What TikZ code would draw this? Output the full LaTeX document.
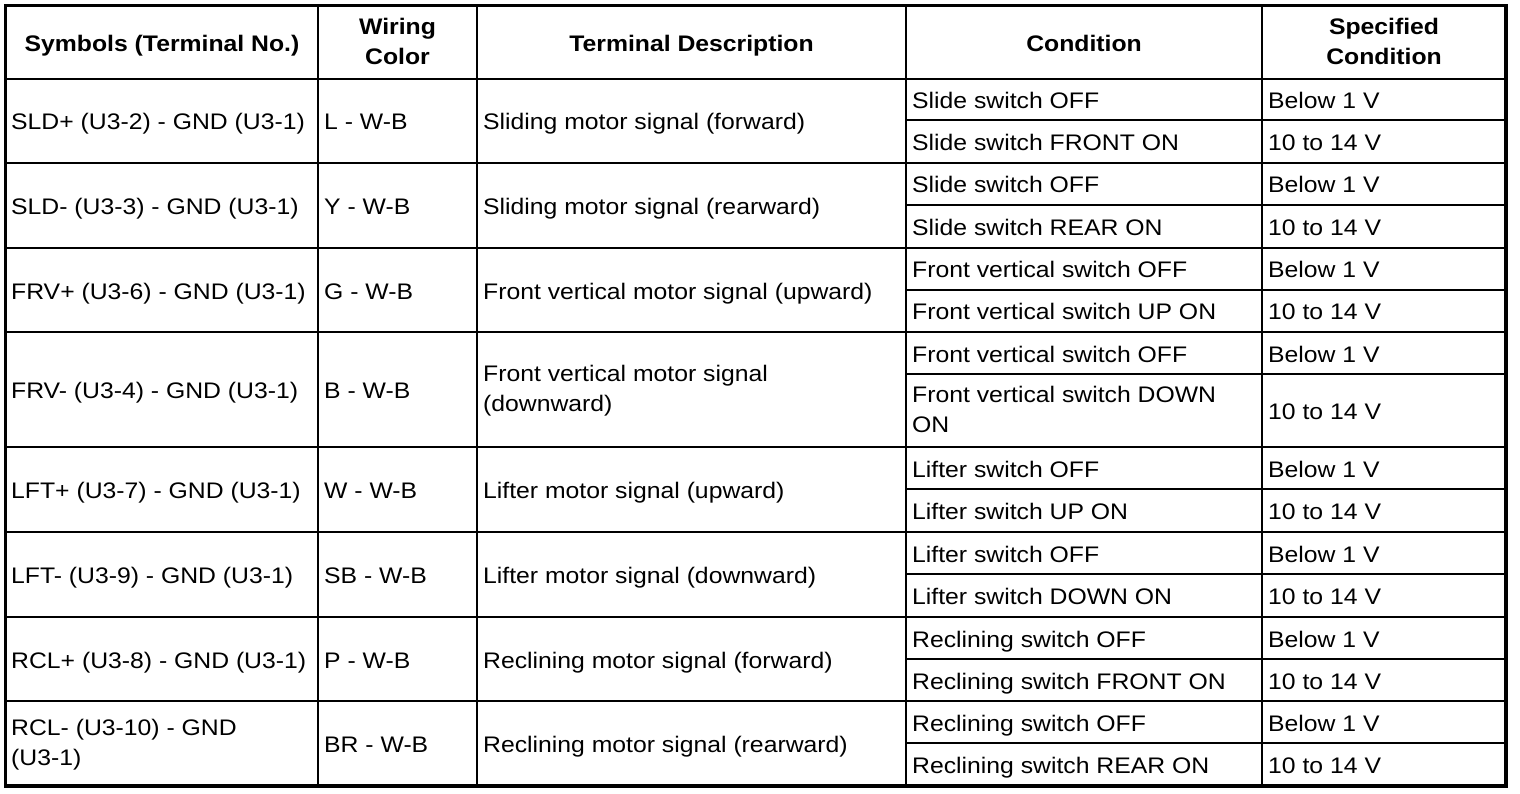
\documentclass[tikz,border=0pt]{standalone}
\usepackage{fontspec}
\setmainfont{Liberation Sans}[FakeStretch=1.1]
\usepackage{tikz}

\begin{document}
\begin{tikzpicture}
      [ x=1pt, y=-1pt,
        txt/.style={anchor=west, inner sep=0pt, align=left, yshift=-3pt,
                    font=\fontsize{22.5}{30}\selectfont,
                    execute at begin node=\strut, execute at end node=\strut},
        head/.style={inner sep=0pt, align=center, yshift=-4pt,
                     font=\fontsize{22.5}{30}\selectfont\bfseries,
                     execute at begin node=\strut, execute at end node=\strut},
        frame/.style={line width=3.5pt},
        rowrule/.style={line width=2.2pt},
        subrule/.style={line width=1.4pt}
      ]
      \useasboundingbox (0,0) rectangle (1520,794);

      % header
      \node[head] (hsym)  at (162,42)    {Symbols (Terminal No.)};
      \node[head] (hwire) at (397.5,42)  {Wiring\\Color};
      \node[head] (hdesc) at (691.5,42)  {Terminal Description};
      \node[head] (hcond) at (1084,42)   {Condition};
      \node[head] (hspec) at (1384,42)   {Specified\\Condition};

      % body rows: top / middle / bottom / texts
      \foreach \i/\ya/\ym/\yb/\sym/\wire/\desc/\ca/\cb in {
        1/79/120/163/{SLD+ (U3-2) - GND (U3-1)}/{L - W-B}/{Sliding motor signal (forward)}/{Slide switch OFF}/{Slide switch FRONT ON},
        2/163/205/248/{SLD- (U3-3) - GND (U3-1)}/{Y - W-B}/{Sliding motor signal (rearward)}/{Slide switch OFF}/{Slide switch REAR ON},
        3/248/290/332/{FRV+ (U3-6) - GND (U3-1)}/{G - W-B}/{Front vertical motor signal (upward)}/{Front vertical switch OFF}/{Front vertical switch UP ON},
        4/332/374/447/{FRV- (U3-4) - GND (U3-1)}/{B - W-B}/{Front vertical motor signal\\(downward)}/{Front vertical switch OFF}/{Front vertical switch DOWN\\ON},
        5/447/489/532/{LFT+ (U3-7) - GND (U3-1)}/{W - W-B}/{Lifter motor signal (upward)}/{Lifter switch OFF}/{Lifter switch UP ON},
        6/532/574/617/{LFT- (U3-9) - GND (U3-1)}/{SB - W-B}/{Lifter motor signal (downward)}/{Lifter switch OFF}/{Lifter switch DOWN ON},
        7/617/659/701/{RCL+ (U3-8) - GND (U3-1)}/{P - W-B}/{Reclining motor signal (forward)}/{Reclining switch OFF}/{Reclining switch FRONT ON},
        8/701/743/786/{RCL- (U3-10) - GND\\(U3-1)}/{BR - W-B}/{Reclining motor signal (rearward)}/{Reclining switch OFF}/{Reclining switch REAR ON}}
      {
        \node[txt] (sym\i)   at (11,{(\ya+\yb)/2})   {\sym};
        \node[txt] (wire\i)  at (324,{(\ya+\yb)/2})  {\wire};
        \node[txt] (desc\i)  at (483,{(\ya+\yb)/2})  {\desc};
        \node[txt] (conda\i) at (912,{(\ya+\ym)/2})  {\ca};
        \node[txt] (condb\i) at (912,{(\ym+\yb)/2})  {\cb};
        \node[txt] (speca\i) at (1268,{(\ya+\ym)/2}) {Below 1 V};
        \node[txt] (specb\i) at (1268,{(\ym+\yb)/2}) {10 to 14 V};
        \draw[subrule] (906,\ym) -- (1506,\ym);
        \draw[rowrule] (5.5,\ya) -- (1506,\ya);
      }

      % column rules
      \foreach \x in {318,477,906,1262}
        \draw[subrule] (\x,5.5) -- (\x,786);

      \draw[frame] (5.5,5.5) rectangle (1506,786);
    \end{tikzpicture}
\end{document}
